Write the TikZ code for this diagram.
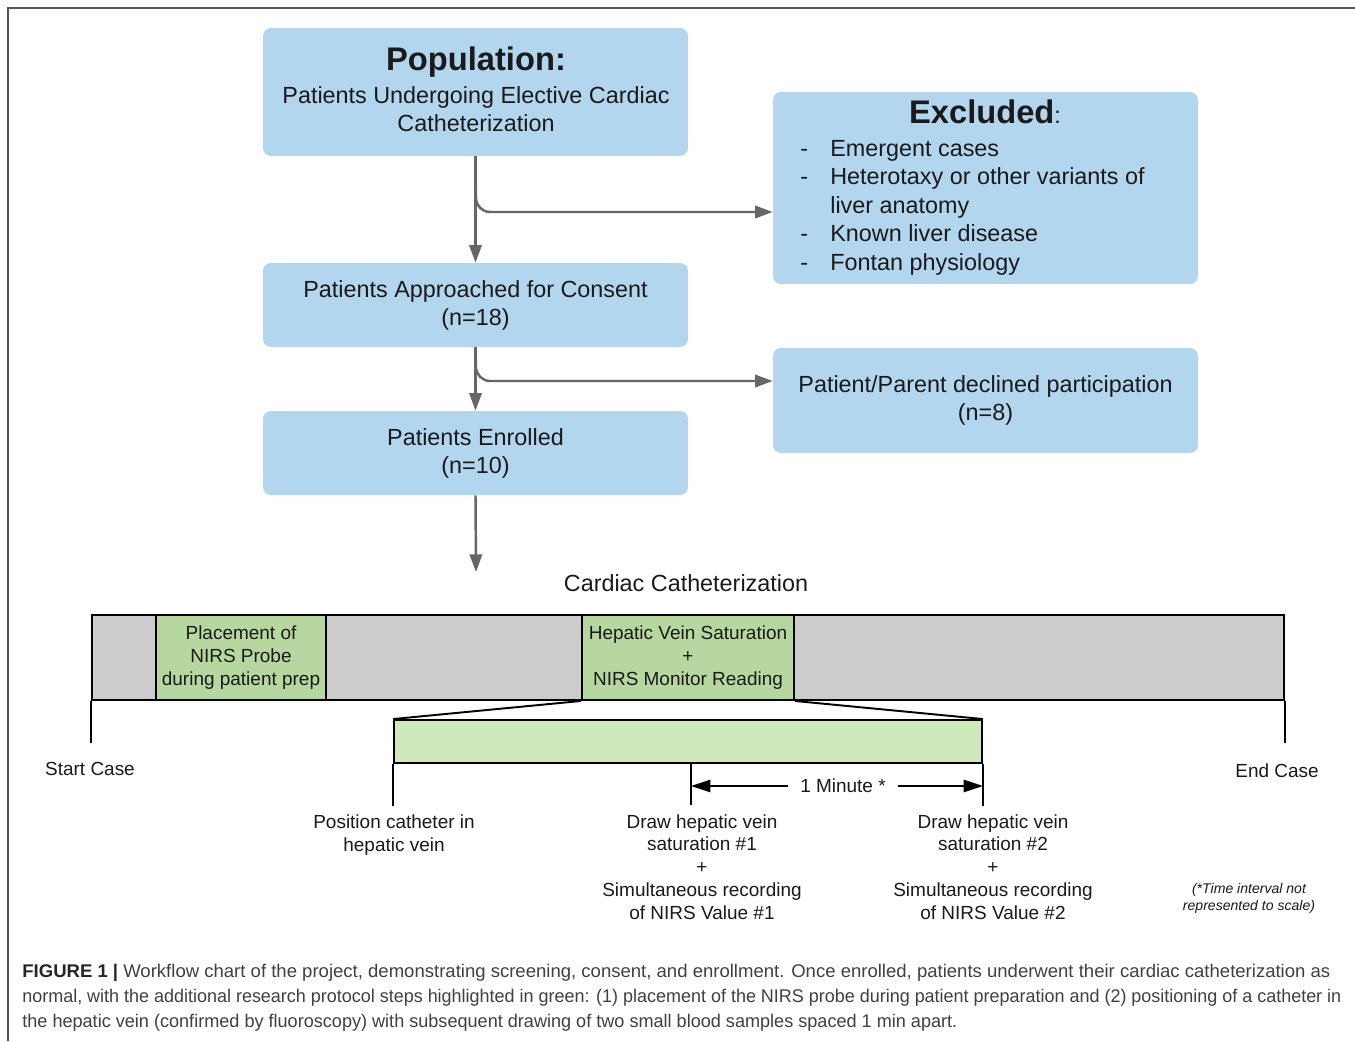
\documentclass[tikz,border=0pt]{standalone}
\usepackage{fontspec}
\usepackage{graphicx}
\setmainfont{Liberation Sans}
\newfontfamily\capfont{Liberation Sans}
\usetikzlibrary{arrows.meta,calc}
\newlength\pxu \setlength\pxu{0.02cm}
\definecolor{boxblue}{HTML}{B3D6EF}
\definecolor{arrgrey}{HTML}{666666}
\definecolor{midgreen}{HTML}{B6D7A0}
\definecolor{lightgreen}{HTML}{D0E9BA}
\definecolor{bargrey}{HTML}{CCCCCC}
\definecolor{txt}{HTML}{1A1A1A}
\definecolor{captxt}{HTML}{404040}
\definecolor{framecol}{HTML}{555555}
\begin{document}
\begin{tikzpicture}[x=0.02cm,y=-0.02cm,
  bluebox/.style={fill=boxblue, rounded corners=4.5pt, draw=none, inner sep=0pt,
    minimum width=8.5cm, align=center, text=txt,
    font=\fontsize{13.3}{15.9}\selectfont},
  bigtxt/.style={text=txt, align=center, inner sep=0pt, font=\fontsize{13.3}{15.9}\selectfont},
  listtxt/.style={text=txt, align=left, inner sep=0pt, font=\fontsize{13.3}{16.2}\selectfont},
  titletxt/.style={text=txt, inner sep=0pt, font=\fontsize{18.6}{22}\selectfont\bfseries},
  arr/.style={draw=arrgrey, line width=1.4pt, -{Triangle[length=10pt,width=7pt]}},
  barbox/.style={draw=black, line width=1.1pt, inner sep=0pt, minimum height=1.7cm},
  smalltxt/.style={text=txt, align=center, inner sep=0pt, font=\fontsize{10.8}{13}\selectfont},
  tick/.style={draw=black, line width=1.1pt},
  tarr/.style={draw=black, line width=1.1pt, -{Triangle[length=11pt,width=7pt]}},
  captxt/.style={anchor=base west, inner sep=0pt, text=captxt, font=\capfont\fontsize{10.45}{12}\selectfont}
]
\useasboundingbox[fill=white] (0,0) rectangle (1355,1041);
\draw[framecol, line width=1pt] (8,1041) -- (8,8) -- (1355,8);

% flow boxes
\node[bluebox, minimum height=2.56cm] (pop) at (475.5,92) {};
\node[titletxt] (poptitle) at (476,62) {Population:};
\node[bigtxt] (popbody) at (476,109) {Patients Undergoing Elective Cardiac\\Catheterization};

\node[bluebox, minimum height=3.84cm] (ex) at (985.5,188) {};
\node[titletxt, anchor=base] (extitle) at (985,123) {Excluded\textmd{\fontsize{13.3}{15.9}\selectfont:}};
\node[listtxt, anchor=north west] (exlist) at (800,140) {%
\makebox[30\pxu][l]{-}Emergent cases\\
\makebox[30\pxu][l]{-}Heterotaxy or other variants of\\
\hspace*{30\pxu}liver anatomy\\
\makebox[30\pxu][l]{-}Known liver disease\\
\makebox[30\pxu][l]{-}Fontan physiology};

\node[bluebox, minimum height=1.68cm] (con) at (475.5,305) {Patients Approached for Consent\\(n=18)};
\node[bluebox, minimum height=2.1cm] (dec) at (985.5,400.5) {Patient/Parent declined participation\\(n=8)};
\node[bluebox, minimum height=1.68cm] (enr) at (475.5,453) {Patients Enrolled\\(n=10)};

% connectors
\coordinate (b1) at (476,185);
\coordinate (y1) at (0,212);
\coordinate (b2) at (476,360);
\coordinate (y2) at (0,381);
\coordinate (c3) at (476,572);
\draw[arr] (pop.south) -- (con.north);
\draw[arr, rounded corners=8pt] (b1) |- (ex.west |- y1);
\draw[arr] (con.south) -- (enr.north);
\draw[arr, rounded corners=8pt] (b2) |- (dec.west |- y2);
\draw[arr] (enr.south) -- (c3);

\node[bigtxt] (cath) at (686,583) {Cardiac Catheterization};

% timeline
\node[barbox, fill=bargrey, minimum width=23.84cm] (bar) at (688,657.5) {};
\node[barbox, fill=midgreen, minimum width=3.4cm, smalltxt] (g1) at (241,657.5) {Placement of\\NIRS Probe\\during patient prep};
\node[barbox, fill=midgreen, minimum width=4.24cm, smalltxt] (g2) at (688,657.5) {Hepatic Vein Saturation\\+\\NIRS Monitor Reading};
\node[draw=black, line width=1.1pt, fill=lightgreen, inner sep=0pt, minimum width=11.76cm, minimum height=0.86cm] (zb) at (688,741.5) {};
\draw[tick] (g2.south west) -- (zb.north west);
\draw[tick] (g2.south east) -- (zb.north east);

\draw[tick] (bar.south west) -- ++(0,42);
\draw[tick] (bar.south east) -- ++(0,42);
\coordinate (m1) at (691,763);
\draw[tick] (zb.south west) -- ++(0,42);
\draw[tick] (m1) -- ++(0,42);
\draw[tick] (zb.south east) -- ++(0,42);

\node[smalltxt, inner xsep=7pt] (mn) at (843,786) {1 Minute *};
\draw[tarr] (mn.west) -- (mn.west -| m1);
\draw[tarr] (mn.east) -- (mn.east -| zb.east);

\node[smalltxt] (start) at (90,769) {Start Case};
\node[smalltxt] (end) at (1277,771) {End Case};
\node[smalltxt] (pos) at (394,835) {Position catheter in\\hepatic vein};
\node[smalltxt] (d1) at (702,867) {Draw hepatic vein\\saturation \#1\\+\\Simultaneous recording\\of NIRS Value \#1};
\node[smalltxt] (d2) at (993,867) {Draw hepatic vein\\saturation \#2\\+\\Simultaneous recording\\of NIRS Value \#2};
\node[text=txt, align=center, inner sep=0pt, font=\fontsize{8}{9.6}\selectfont\itshape] (note) at (1249,898.5) {(*Time interval not\\represented to scale)};

% caption
\node[captxt] (cap1) at (22,977) {\resizebox{1308\pxu}{\height}{\textcolor{black!85}{\textbf{FIGURE 1 |}} Workflow chart of the project, demonstrating screening, consent, and enrollment. Once enrolled, patients underwent their cardiac catheterization as}};
\node[captxt] (cap2) at (22,1002) {\resizebox{1319\pxu}{\height}{normal, with the additional research protocol steps highlighted in green: (1) placement of the NIRS probe during patient preparation and (2) positioning of a catheter in}};
\node[captxt] (cap3) at (22,1027) {\resizebox{935\pxu}{\height}{the hepatic vein (confirmed by fluoroscopy) with subsequent drawing of two small blood samples spaced 1 min apart.}};
\end{tikzpicture}
\end{document}
